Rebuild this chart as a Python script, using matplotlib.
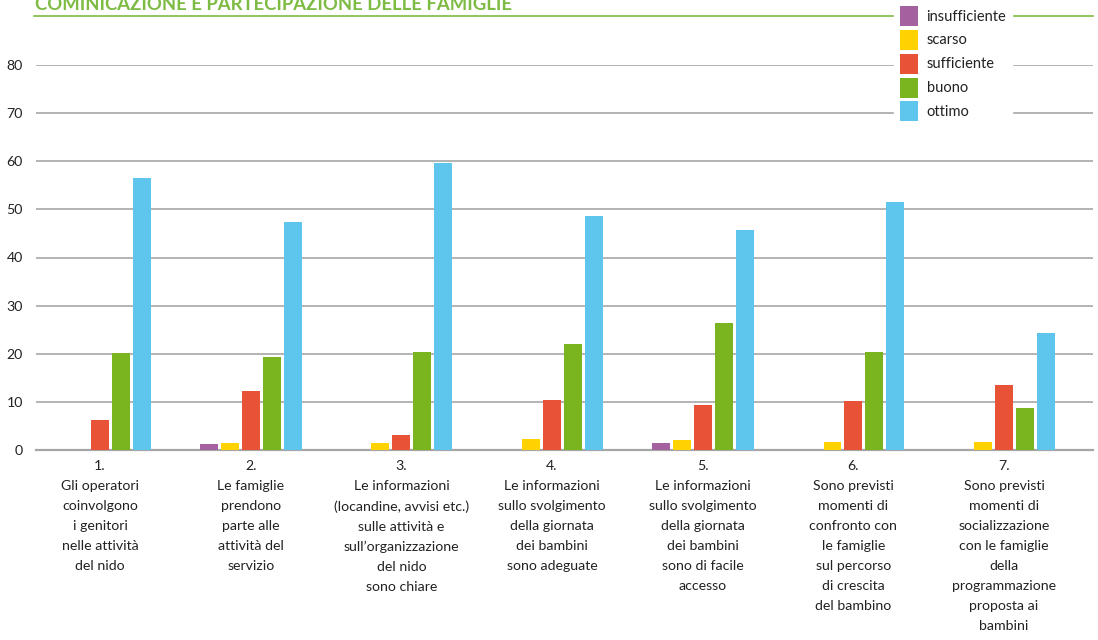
import matplotlib.pyplot as plt
from matplotlib.lines import Line2D
import numpy as np

# dati
domande = [
    "1.\nGli operatori\ncoinvolgono\ni genitori\nnelle attività\ndel nido",
    "2.\nLe famiglie\nprendono\nparte alle\nattività del\nservizio",
    "3.\nLe informazioni\n(locandine, avvisi etc.)\nsulle attività e\nsull’organizzazione\ndel nido\nsono chiare",
    "4.\nLe informazioni\nsullo svolgimento\ndella giornata\ndei bambini\nsono adeguate",
    "5.\nLe informazioni\nsullo svolgimento\ndella giornata\ndei bambini\nsono di facile\naccesso",
    "6.\nSono previsti\nmomenti di\nconfronto con\nle famiglie\nsul percorso\ndi crescita\ndel bambino",
    "7.\nSono previsti\nmomenti di\nsocializzazione\ncon le famiglie\ndella\nprogrammazione\nproposta ai\nbambini",
]
giudizi = ["insufficiente", "scarso", "sufficiente", "buono", "ottimo"]
insufficiente = [0, 1.2, 0, 0, 1.4, 0, 0]
scarso = [0, 1.4, 1.4, 2.3, 2.1, 1.7, 1.7]
sufficiente = [6.2, 12.3, 3.1, 10.4, 9.4, 10.2, 13.5]
buono = [20.2, 19.3, 20.4, 22.0, 26.4, 20.4, 8.7]
ottimo = [56.5, 47.4, 59.7, 48.6, 45.7, 51.6, 24.3]

colori = ["#a5609f", "#ffd200", "#e85338", "#7ab51f", "#5ec5ec"]

plt.rcParams["font.family"] = ["Lato", "DejaVu Sans"]

fig = plt.figure(figsize=(10.98, 6.4), dpi=100)
ax = fig.add_axes([36 / 1098, 1 - 450 / 640, 1057 / 1098, 385 / 640])

x = np.arange(len(domande))
passo = 0.139
larg = 0.119
serie = [insufficiente, scarso, sufficiente, buono, ottimo]
for i, (nome, valori) in enumerate(zip(giudizi, serie)):
    ax.bar(x + (i - 2) * passo, valori, width=larg, color=colori[i], label=nome, zorder=3)

ax.set_ylim(0, 80)
ax.set_xlim(-0.425, 6.59)
ax.set_yticks(range(0, 81, 10))
ax.grid(axis="y", color="#b3b3b3", linewidth=1.4, zorder=0)
for s in ["top", "right", "left"]:
    ax.spines[s].set_visible(False)
ax.spines["bottom"].set_color("#a6a6a6")
ax.spines["bottom"].set_linewidth(1.6)
ax.tick_params(length=0, labelsize=10.2, labelcolor="#222222")
ax.tick_params(axis="y", pad=9.5)
ax.tick_params(axis="x", pad=7)
ax.set_xticks(x)
ax.set_xticklabels(domande, linespacing=1.8, va="top")

# titolo e linea verde
fig.text(35 / 1098, 1 - 10 / 640, "COMINICAZIONE E PARTECIPAZIONE DELLE FAMIGLIE",
         color="#7dbb42", fontsize=13.3, fontweight="bold", va="baseline")
fig.add_artist(Line2D([34 / 1098, 1093 / 1098], [1 - 16 / 640, 1 - 16 / 640],
                      color="#7dbb42", linewidth=1.2, zorder=1))

leg = fig.legend(loc="upper left", bbox_to_anchor=(894 / 1098, 1.0), frameon=True,
                 facecolor="white", edgecolor="white", framealpha=1, fancybox=False,
                 fontsize=10.5, handlelength=1.23, handleheight=1.73, labelspacing=0.27,
                 handletextpad=0.6, borderpad=0.4, borderaxespad=0)
leg.set_zorder(5)
for t in leg.get_texts():
    t.set_color("#222222")

fig.savefig("out.png", dpi=100)
